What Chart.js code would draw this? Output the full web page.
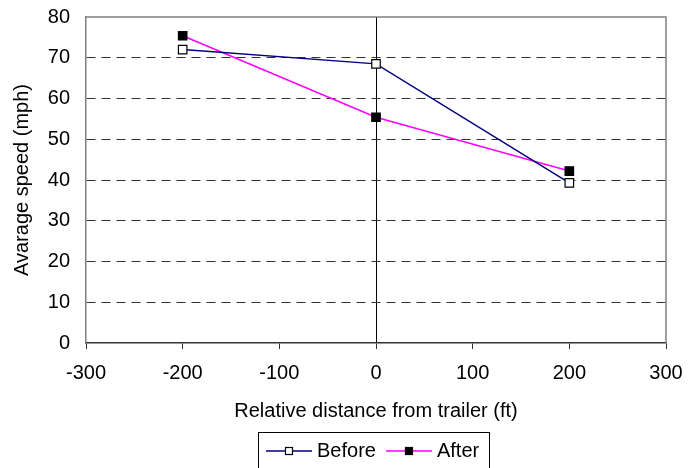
<!DOCTYPE html>
<html>
<head>
<meta charset="utf-8">
<script src="https://cdn.jsdelivr.net/npm/chart.js@4.4.0/dist/chart.umd.min.js"></script>
<style>
  html, body { margin: 0; padding: 0; background: #fff; }
  #wrap { width: 692px; height: 468px; }
</style>
</head>
<body>
<div id="wrap"><canvas id="speedChart"></canvas></div>
<script>
// data
const distances = [-200, 0, 200];
const beforeSpeeds = [72, 68.5, 39.3];
const afterSpeeds = [75.4, 55.4, 42.2];
const xTicks = [-300, -200, -100, 0, 100, 200, 300];
const yTicks = [0, 10, 20, 30, 40, 50, 60, 70, 80];

const font = { family: "'Liberation Sans', Arial, sans-serif", size: 20 };

const toPoints = (xs, ys) => xs.map((x, i) => ({ x: x, y: ys[i] }));

// little line + marker picture for the legend
const legendIcon = (lineColor, fill) => {
  const c = document.createElement('canvas');
  c.width = 46; c.height = 12;
  const g = c.getContext('2d');
  g.strokeStyle = lineColor;
  g.lineWidth = 1.5;
  g.beginPath(); g.moveTo(0, 6); g.lineTo(46, 6); g.stroke();
  g.fillStyle = fill;
  g.fillRect(19, 2, 8, 8);
  g.strokeStyle = '#000';
  g.lineWidth = 1.2;
  g.strokeRect(19.5, 2.5, 7, 7);
  return c;
};

// gray frame on top/right, legend placement and its box
const framePlugin = {
  id: 'frame',
  afterUpdate(chart) {
    const lg = chart.legend;
    const hb = lg.legendHitBoxes;
    if (!hb || !hb.length) return;
    const dx = 271 - hb[0].left;
    const dy = 451 - (hb[0].top + hb[0].height / 2);
    lg.left += dx; lg.right += dx;
    lg.top += dy; lg.bottom += dy;
    lg.adjustHitBoxes();
  },
  beforeDatasetsDraw(chart) {
    const { ctx, chartArea: a } = chart;
    ctx.save();
    ctx.strokeStyle = '#808080';
    ctx.lineWidth = 1.5;
    ctx.beginPath();
    ctx.moveTo(a.left, a.top);
    ctx.lineTo(a.right, a.top);
    ctx.lineTo(a.right, a.bottom);
    ctx.stroke();
    ctx.restore();
  },
  afterDraw(chart) {
    const ctx = chart.ctx;
    ctx.save();
    ctx.strokeStyle = '#000';
    ctx.lineWidth = 1;
    ctx.strokeRect(258.5, 432.5, 231, 40);
    ctx.restore();
  }
};

new Chart(document.getElementById('speedChart'), {
  type: 'scatter',
  data: {
    datasets: [
      {
        label: 'Before',
        data: toPoints(distances, beforeSpeeds),
        showLine: true,
        borderColor: '#000080',
        borderWidth: 1.5,
        pointStyle: 'rect',
        pointRadius: 6,
        pointBackgroundColor: '#fff',
        pointBorderColor: '#000',
        pointBorderWidth: 1.2
      },
      {
        label: 'After',
        data: toPoints(distances, afterSpeeds),
        showLine: true,
        borderColor: '#ff00ff',
        borderWidth: 1.5,
        pointStyle: 'rect',
        pointRadius: 6,
        pointBackgroundColor: '#000',
        pointBorderColor: '#000',
        pointBorderWidth: 1.2
      }
    ]
  },
  options: {
    responsive: true,
    maintainAspectRatio: false,
    animation: false,
    layout: { padding: { left: 10, right: 26, top: 17, bottom: 0 } },
    plugins: {
      tooltip: { enabled: false },
      legend: {
        position: 'bottom',
        labels: {
          color: '#000',
          font: font,
          usePointStyle: true,
          pointStyleWidth: 36,
          padding: 15,
          generateLabels: (chart) => chart.data.datasets.map((ds, i) => ({
            text: ds.label,
            datasetIndex: i,
            pointStyle: legendIcon(ds.borderColor, ds.pointBackgroundColor),
            fillStyle: 'transparent',
            strokeStyle: 'transparent',
            lineWidth: 0,
            fontColor: '#000'
          }))
        }
      }
    },
    scales: {
      x: {
        type: 'linear',
        min: -300,
        max: 300,
        afterBuildTicks: (s) => { s.ticks = xTicks.map(v => ({ value: v })); },
        afterFit: (s) => { s.height = 80; s.paddingLeft = 0; s.paddingRight = 0; },
        ticks: { color: '#000', font: font, padding: 12 },
        grid: {
          color: (c) => c.tick && c.tick.value === 0 ? '#000' : 'transparent',
          lineWidth: 1,
          drawTicks: true,
          tickLength: 6,
          tickColor: '#333'
        },
        border: { color: '#333', width: 1.5 },
        title: { display: true, text: 'Relative distance from trailer (ft)', color: '#000', font: font, padding: 0 }
      },
      y: {
        min: 0,
        max: 80,
        afterBuildTicks: (s) => { s.ticks = yTicks.map(v => ({ value: v })); },
        afterFit: (s) => { s.width = 76; s.paddingTop = 0; s.paddingBottom = 0; },
        ticks: { color: '#000', font: font, padding: 16 },
        grid: {
          color: (c) => c.tick && (c.tick.value === 0 || c.tick.value === 80) ? 'transparent' : '#333',
          lineWidth: 1,
          drawTicks: false
        },
        border: { color: '#808080', width: 1.5, dash: [9, 6] },
        title: { display: true, text: 'Avarage speed (mph)', color: '#000', font: font, padding: 0 }
      }
    }
  },
  plugins: [framePlugin]
});
</script>
</body>
</html>
